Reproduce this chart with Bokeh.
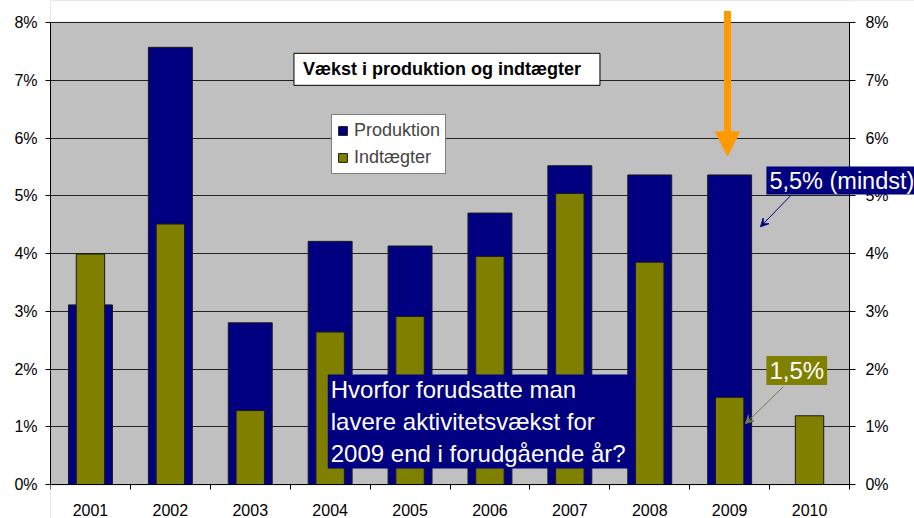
from bokeh.plotting import figure
from bokeh.models import (Range1d, LinearAxis, FixedTicker, PrintfTickFormatter, Label,
                          Arrow, VeeHead, NormalHead, Legend, LegendItem, ColumnDataSource,
                          BoxAnnotation)
from bokeh.embed import file_html
from bokeh.resources import INLINE

# ---- data ----
years = ["2001", "2002", "2003", "2004", "2005", "2006", "2007", "2008", "2009", "2010"]
produktion = [3.11, 7.57, 2.80, 4.21, 4.13, 4.70, 5.52, 5.36, 5.36, None]
indtaegter = [3.99, 4.51, 1.28, 2.64, 2.91, 3.95, 5.04, 3.85, 1.51, 1.19]
y_ticks = [0, 1, 2, 3, 4, 5, 6, 7, 8]

title_text = "Vækst i produktion  og  indtægter"
question_text = "Hvorfor forudsatte man\nlavere aktivitetsvækst for\n2009 end i forudgående år?"
note_prod = "5,5% (mindst)"
note_ind = "1,5%"

NAVY = "#000080"
OLIVE = "#808000"
FONT = "Liberation Sans"

n = len(years)
y_max = y_ticks[-1]
centers = [i + 0.5 for i in range(n)]
prod_src = ColumnDataSource(dict(x=[c for c, v in zip(centers, produktion) if v is not None],
                                 top=[v for v in produktion if v is not None]))
ind_src = ColumnDataSource(dict(x=centers, top=indtaegter))

# frame spans past the plot panel (top, right, bottom) so nothing gets clipped
p = figure(width=914, height=518, output_backend="svg", toolbar_location=None,
           x_axis_location=None,
           x_range=Range1d(0, n + 65 / 79.9), y_range=Range1d(-34 / 57.75, y_max + 22 / 57.75),
           min_border_left=50, min_border_right=0, min_border_top=0, min_border_bottom=0,
           background_fill_color="#C0C0C0", border_fill_color="white",
           outline_line_color=None)
p.xgrid.visible = False

# white areas outside the plot panel
for kw in (dict(bottom=y_max + 0.012), dict(left=n + 0.008), dict(top=-0.012)):
    p.add_layout(BoxAnnotation(fill_color="white", fill_alpha=1, line_color=None,
                               level="underlay", **kw))

r_prod = p.vbar(x="x", top="top", bottom=0, width=0.55, source=prod_src,
                fill_color=NAVY, line_color="#1a1a1a", line_width=1)
r_ind = p.vbar(x="x", top="top", bottom=0, width=0.355, source=ind_src,
               fill_color=OLIVE, line_color="#1a1a1a", line_width=1)

# x axis, drawn at y = 0 with its labels below the line
xa = LinearAxis(fixed_location=0)
xa.ticker = FixedTicker(ticks=centers, minor_ticks=list(range(n + 1)))
xa.major_label_overrides = {c: y for c, y in zip(centers, years)}
xa.bounds = (0, n)
xa.major_tick_out = 0
xa.major_tick_in = 0
xa.minor_tick_out = 0
xa.minor_tick_in = 5
xa.minor_tick_line_color = "black"
xa.major_label_standoff = -31
xa.axis_line_color = "black"
p.add_layout(xa, "above")

# left y axis
ly = p.yaxis[0]
ly.major_tick_out = 5
ly.major_tick_in = 0
ly.major_label_standoff = 8

# right y axis: drawn at the right edge of the plot panel, labels to its right
ry = LinearAxis(fixed_location=n)
ry.major_tick_out = 0
ry.major_tick_in = 6
ry.major_label_standoff = -39
p.add_layout(ry, "left")

for ax in (ly, ry):
    ax.ticker = FixedTicker(ticks=y_ticks, minor_ticks=[])
    ax.formatter = PrintfTickFormatter(format="%d%%")
    ax.bounds = (0, y_max)
    ax.axis_line_color = "black"
    ax.major_tick_line_color = "black"

for ax in (xa, ly, ry):
    ax.major_label_text_font = FONT
    ax.major_label_text_font_size = "16px"
    ax.major_label_text_color = "black"

for g in p.ygrid:
    g.ticker = FixedTicker(ticks=y_ticks)
    g.grid_line_color = "#222222"
    g.grid_line_width = 1

# legend
legend = Legend(items=[LegendItem(label="Produktion", renderers=[r_prod]),
                       LegendItem(label="Indtægter", renderers=[r_ind])],
                location=(281, 344), orientation="vertical",
                background_fill_color="white", background_fill_alpha=1,
                border_line_color="black", border_line_width=1,
                label_text_font=FONT, label_text_font_size="18px",
                glyph_width=11, glyph_height=11, label_standoff=6,
                padding=5, spacing=6, margin=0)
p.add_layout(legend, "center")

# title box
p.add_layout(Label(x=4.962, y=7.189, text=title_text, text_align="center", text_baseline="middle",
                   text_font=FONT, text_font_size="18px", text_font_style="bold", text_color="black",
                   background_fill_color="white", border_line_color="black", border_line_width=1,
                   padding=dict(left=9, right=9, top=6, bottom=6)))

# orange arrow
p.add_layout(Arrow(x_start=8.473, y_start=8.2, x_end=8.473, y_end=5.69,
                   line_color="#FF9900", line_width=7, level="overlay",
                   end=NormalHead(size=24, fill_color="#FF9900", line_color="#FF9900")))

# annotation arrows
p.add_layout(Arrow(x_start=9.262, y_start=5.0, x_end=8.886, y_end=4.464,
                   line_color=NAVY, line_width=1,
                   end=VeeHead(size=8, fill_color=NAVY, line_color=NAVY)))
p.add_layout(Arrow(x_start=9.174, y_start=1.696, x_end=8.698, y_end=1.055,
                   line_color="#7a7a4a", line_width=1,
                   end=VeeHead(size=8, fill_color="#7a7a4a", line_color="#7a7a4a")))

# annotation boxes
p.add_layout(Label(x=8.96, y=5.505, text=note_prod, text_align="left", text_baseline="top",
                   text_font=FONT, text_font_size="23.5px", text_color="white", level="overlay",
                   background_fill_color=NAVY, padding=dict(left=3, right=3, top=1, bottom=1)))
p.add_layout(Label(x=8.96, y=2.223, text=note_ind, text_align="left", text_baseline="top",
                   text_font=FONT, text_font_size="24px", text_color="white",
                   background_fill_color=OLIVE, padding=dict(left=3, right=3, top=1, bottom=1)))
p.add_layout(Label(x=3.47, y=1.903, text=question_text, text_align="left", text_baseline="top",
                   text_font=FONT, text_font_size="24px", text_color="white", text_line_height=1.2,
                   background_fill_color=NAVY, padding=dict(left=3, right=3, top=1, bottom=1)))

open("out.html", "w").write(file_html(p, INLINE))
